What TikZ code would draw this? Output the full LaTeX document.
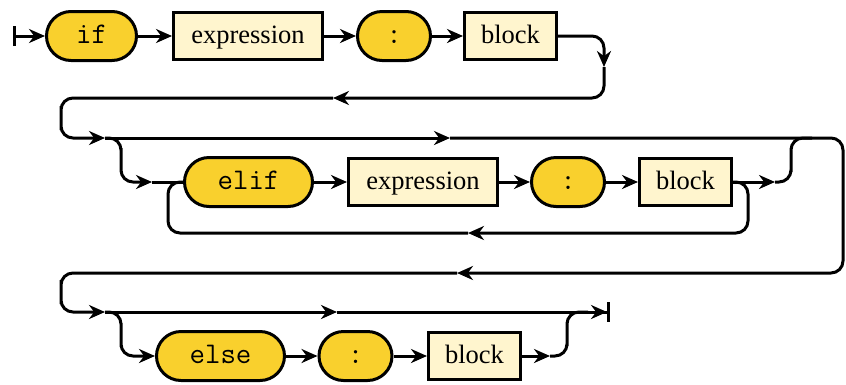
\documentclass[tikz,border=0pt]{standalone}
\usepackage{fontspec}
\setmainfont{Liberation Serif}
\usetikzlibrary{arrows.meta}
\definecolor{termfill}{RGB}{249,208,45}
\definecolor{boxfill}{RGB}{255,245,206}
\tikzset{
  term/.style={draw, line width=3pt, fill=termfill, rounded corners=24.5pt,
    minimum height=49pt, inner sep=0pt, text height=20pt, text depth=6pt,
    font=\fontsize{30}{34}\selectfont\ttfamily},
  nonterm/.style={draw, line width=3pt, fill=boxfill, minimum height=47pt,
    inner sep=0pt, text height=20pt, text depth=6pt,
    font=\fontsize{26.5}{30}\selectfont},
  conn/.style={line width=3pt, rounded corners=12pt},
  arr/.style={-{Stealth[length=16pt,width=14pt]}},
}
\begin{document}
\begin{tikzpicture}[x=1pt,y=-1pt]
\useasboundingbox (0,0) rectangle (846,384);
% row 1
\node[term, minimum width=90pt] (if) at (91.5,36) {if};
\node[nonterm, minimum width=149pt] (ex1) at (248,36) {expression};
\node[term, minimum width=73pt] (c1) at (394,36) {:};
\node[nonterm, minimum width=92pt] (b1) at (510.5,36) {block};
% row 2
\node[term, minimum width=128pt] (elif) at (248.5,182) {elif};
\node[nonterm, minimum width=149pt] (ex2) at (423,182) {expression};
\node[term, minimum width=73pt] (c2) at (568,182) {:};
\node[nonterm, minimum width=92pt] (b2) at (685.5,182) {block};
% row 3
\node[term, minimum width=128pt] (else) at (220.5,356) {else};
\node[term, minimum width=73pt] (c3) at (355.5,356) {:};
\node[nonterm, minimum width=92pt] (b3) at (474.5,356) {block};
% coordinates
\coordinate (S1) at (13,36);
\coordinate (a1) at (604,67);
\coordinate (a2) at (333,98);
\coordinate (lw2) at (61,118);
\coordinate (J2) at (105,138);
\coordinate (a3) at (450,138);
\coordinate (rw) at (843,205);
\coordinate (a4) at (457,273);
\coordinate (lw3) at (61,292);
\coordinate (J3) at (105,312);
\coordinate (v2) at (121,160);
\coordinate (a5) at (152,182);
\coordinate (lr) at (748,208);
\coordinate (a6) at (468,233);
\coordinate (ll) at (168,208);
\coordinate (a7) at (775,182);
\coordinate (m2) at (791,160);
\coordinate (m2e) at (812,138);
\coordinate (a8) at (337,312);
\coordinate (E) at (610,312);
\coordinate (v3) at (121,335);
\coordinate (a9) at (550,356);
\coordinate (m3) at (567,334);
\coordinate (m3e) at (588,312);
% row 1 connectors
\draw[conn, {Bar[width=20pt]}-{Stealth[length=16pt,width=14pt]}] (S1) -- (if);
\draw[conn, arr] (if) -- (ex1);
\draw[conn, arr] (ex1) -- (c1);
\draw[conn, arr] (c1) -- (b1);
\draw[conn, arr] (b1.east) -| (a1);
\draw[conn, arr] (a1) |- (a2);
\draw[conn, arr] (a2) -| (lw2) |- (J2);
% row 2 connectors
\draw[conn, arr] (J2) -- (a3);
\draw[conn, arr] (a3) -| (rw) |- (a4);
\draw[conn, arr] (J2) -| (v2) |- (a5);
\draw[conn] (a5) -- (elif.west);
\draw[conn, arr] (elif) -- (ex2);
\draw[conn, arr] (ex2) -- (c2);
\draw[conn, arr] (c2) -- (b2);
\draw[conn, arr] (b2.east) -| (lr) |- (a6);
\draw[conn] (a6) -| (ll) |- (elif.west);
\draw[conn, arr] (b2.east) -- (a7);
\draw[conn] (a7) -| (m2) |- (m2e);
% row 3 connectors
\draw[conn, arr] (a4) -| (lw3) |- (J3);
\draw[conn, arr] (J3) -- (a8);
\draw[conn, -{Stealth[length=16pt,width=14pt,sep=0pt]Bar[width=20pt]}] (a8) -- (E);
\draw[conn, arr] (J3) -| (v3) |- (else.west);
\draw[conn, arr] (else) -- (c3);
\draw[conn, arr] (c3) -- (b3);
\draw[conn, arr] (b3.east) -- (a9);
\draw[conn] (a9) -| (m3) |- (m3e);
\end{tikzpicture}
\end{document}
